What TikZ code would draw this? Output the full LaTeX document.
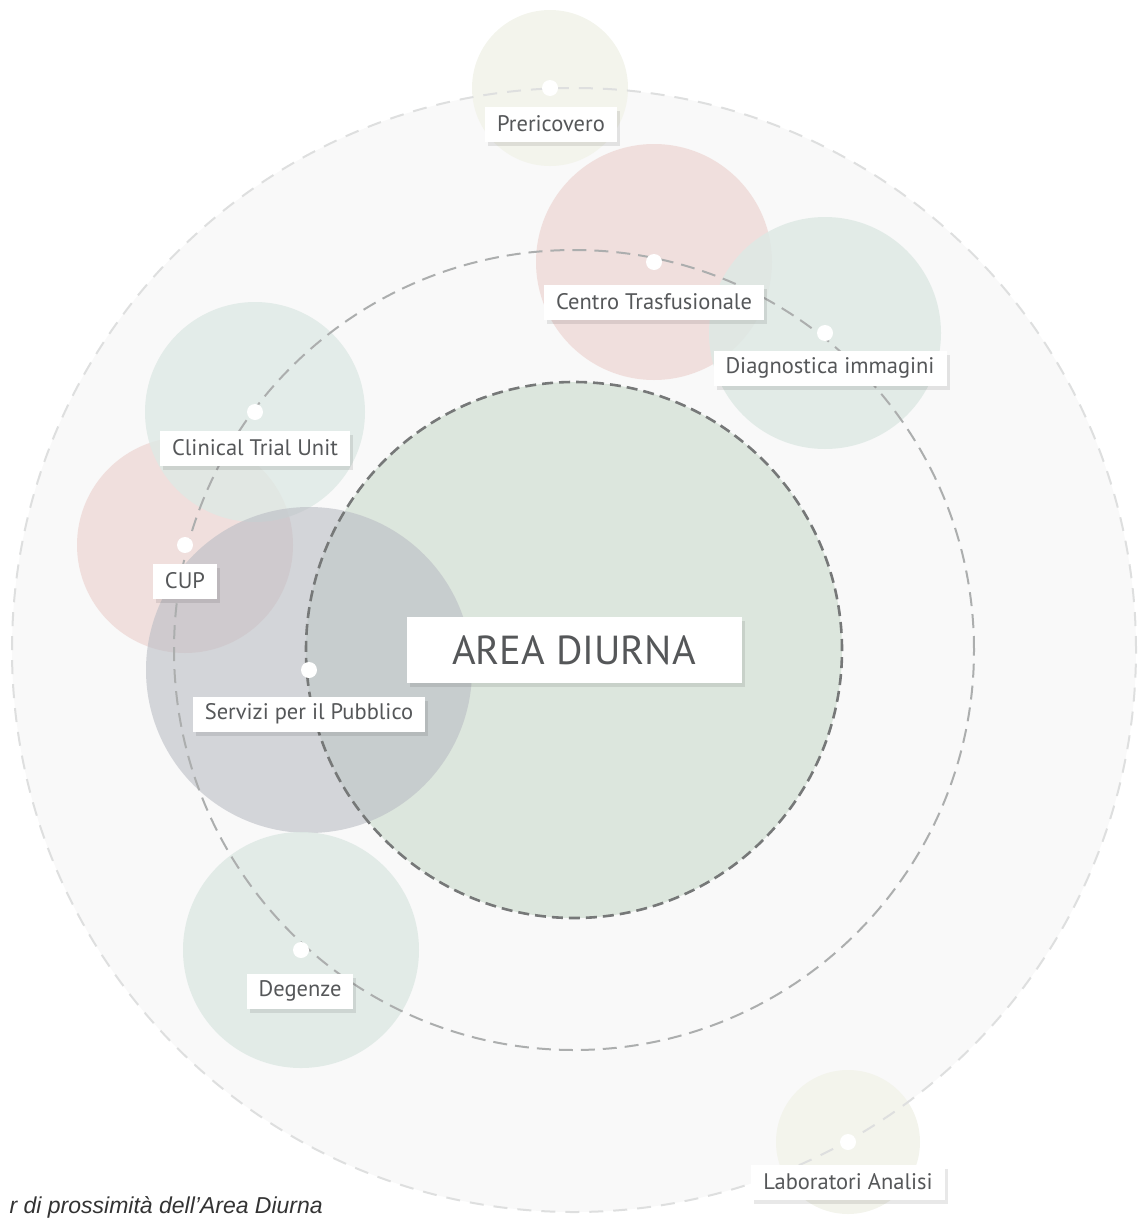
\documentclass[tikz,border=0pt]{standalone}
\usepackage{fontspec}
\setmainfont{PT Sans}
\newfontfamily\captionfont{Liberation Sans}
\usetikzlibrary{shadows}

\definecolor{fieldgrey}{RGB}{249,249,249}
\definecolor{coregreen}{RGB}{220,230,221}
\definecolor{beige}{RGB}{243,244,236}
\definecolor{rose}{RGB}{240,221,218}
\definecolor{mint}{RGB}{222,233,229}
\definecolor{slate}{RGB}{186,189,196}
\definecolor{labelgrey}{RGB}{85,87,89}
\definecolor{ringdark}{RGB}{118,120,120}
\definecolor{ringmid}{RGB}{172,174,174}
\definecolor{ringlight}{RGB}{222,223,223}

\begin{document}
\begin{tikzpicture}[x=1pt,y=-1pt,
  zone/.style={circle, draw=none, inner sep=0pt, minimum size=#1},
  ring/.style={circle, fill=none, inner sep=0pt, minimum size=#1, dashed},
  pin/.style={circle, fill=white, draw=none, inner sep=0pt, minimum size=16pt},
  tag/.style={fill=white, text=labelgrey, inner xsep=12pt, inner ysep=0pt,
    minimum height=35pt, font=\fontsize{22.5}{26}\selectfont,
    drop shadow={shadow xshift=3pt, shadow yshift=-4pt, opacity=0.09, fill=black}},
]
\useasboundingbox (0,0) rectangle (1138,1218);
\coordinate (c) at (574,650);

% pale field inside the outer orbit
\node[zone=1124pt, fill=fieldgrey] (field) at (c) {};
% core area
\node[zone=536pt, fill=coregreen] (core) at (c) {};

% surrounding services
\node[zone=156pt, fill=beige] (pre-zone) at (550,88) {};
\node[zone=236pt, fill=rose, opacity=0.9] (tra-zone) at (654,262) {};
\node[zone=232pt, fill=mint, opacity=0.85] (dia-zone) at (825,333) {};
\node[zone=216pt, fill=rose, opacity=0.9] (cup-zone) at (185,545) {};
\node[zone=220pt, fill=mint, opacity=0.8] (cli-zone) at (255,412) {};
\node[zone=326pt, fill=slate, opacity=0.6] (ser-zone) at (309,670) {};
\node[zone=236pt, fill=mint, opacity=0.85] (deg-zone) at (301,950) {};
\node[zone=144pt, fill=beige] (lab-zone) at (848,1142) {};

% orbits
\node[ring=1124pt, draw=ringlight, line width=2pt, dash pattern=on 14pt off 10pt] (outer) at (c) {};
\node[ring=800pt, draw=ringmid, line width=2pt, dash pattern=on 14pt off 8pt] (middle) at (c) {};
\node[ring=536pt, draw=ringdark, line width=2.6pt, dash pattern=on 11pt off 6pt] (inner) at (c) {};

% anchor points on the orbits
\node[pin] (pre-pin) at (550,88) {};
\node[pin] (tra-pin) at (654,262) {};
\node[pin] (dia-pin) at (825,333) {};
\node[pin] (cli-pin) at (255,412) {};
\node[pin] (cup-pin) at (185,545) {};
\node[pin] (ser-pin) at (309,670) {};
\node[pin] (deg-pin) at (301,950) {};
\node[pin] (lab-pin) at (848,1142) {};

% labels
\node[tag] (pre) at (551,124) {Prericovero};
\node[tag] (tra) at (654,302) {Centro Trasfusionale};
\node[tag] (dia) at (830,368) {Diagnostica immagini};
\node[tag] (cli) at (255,448) {Clinical Trial Unit};
\node[tag] (cup) at (185,581) {CUP};
\node[tag] (ser) at (309,714) {Servizi per il Pubblico};
\node[tag] (deg) at (300,991) {Degenze};
\node[tag] (lab) at (848,1182) {Laboratori Analisi};
\node[tag, minimum width=335pt, minimum height=66pt, font=\fontsize{40.5}{46}\selectfont] (area) at (574,650) {AREA DIURNA};

% caption
\node[anchor=base east, inner sep=0pt, text=black!80, font=\captionfont\itshape\fontsize{23}{27}\selectfont] (caption) at (323,1213) {r di prossimità dell’Area Diurna};
\end{tikzpicture}
\end{document}
